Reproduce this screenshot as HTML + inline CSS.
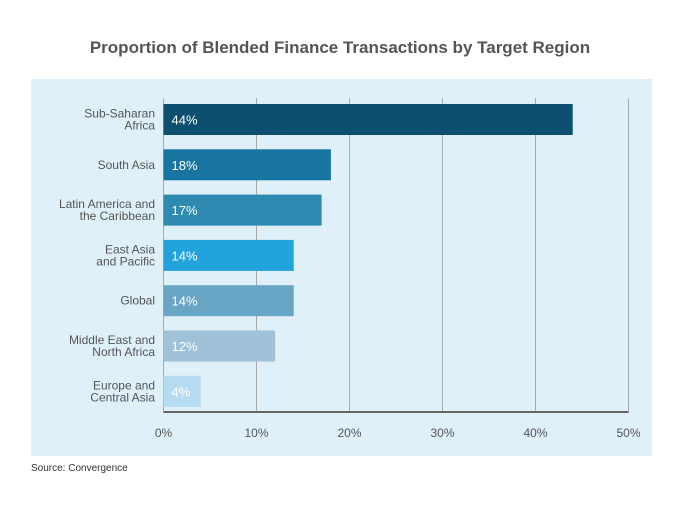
<!DOCTYPE html>
<html><head><meta charset="utf-8"><style>
body{margin:0;background:#fff;font-family:"Liberation Sans",sans-serif}
</style></head><body>
<svg width="680" height="500" xmlns="http://www.w3.org/2000/svg">
<text x="340" y="53" text-anchor="middle" font-size="17" font-weight="bold" fill="#555">Proportion of Blended Finance Transactions by Target Region</text>
<rect x="31" y="79" width="621" height="377" fill="#dff0f9"/>
<g id="grid"></g><g id="bars"></g><g id="labels"></g>
<text x="31" y="471" font-size="10" fill="#333">Source: Convergence</text>
<script>
const categories=[["Sub-Saharan","Africa"],["South Asia"],["Latin America and","the Caribbean"],["East Asia","and Pacific"],["Global"],["Middle East and","North Africa"],["Europe and","Central Asia"]];
const values=[44,18,17,14,14,12,4];
const valueLabels=["44%","18%","17%","14%","14%","12%","4%"];
const ticks=[0,10,20,30,40,50];
const colors=["#0d4f6e","#1874a0","#2e8ab0","#22a3dc","#69a5c4","#a0c2d8","#b5dcf0"];
const NS="http://www.w3.org/2000/svg";
const x=v=>163.5+v*9.3;
const yc=i=>119.5+i*45.3;
function mk(t,a,p){const e=document.createElementNS(NS,t);for(const k in a)e.setAttribute(k,a[k]);p.appendChild(e);return e;}
const g=document.getElementById('grid'),b=document.getElementById('bars'),l=document.getElementById('labels');
ticks.forEach(t=>{
const ln=mk('line',{x1:x(t),x2:x(t),y1:98,y2:412,stroke:'#aaa','stroke-width':1},g);


const tx=mk('text',{x:x(t),y:437,'text-anchor':'middle','font-size':12,fill:'#555'},g);
tx.textContent=t+'%';


});
values.forEach((v,i)=>{
const r=mk('rect',{x:x(0),y:yc(i)-15.5,width:x(v)-x(0),height:31,fill:colors[i]},b);


const vt=mk('text',{x:x(0)+8,y:yc(i)+5,'font-size':13,fill:'#fff'},b);
vt.textContent=valueLabels[i];


const lines=categories[i];
const ct=mk('text',{x:155,'text-anchor':'end','font-size':12,fill:'#555'},l);


lines.forEach((s,j)=>{const ts=mk('tspan',{x:155,y:yc(i)+4+(j-(lines.length-1)/2)*12},ct);ts.textContent=s;});
});
const ax=mk('line',{x1:x(0),x2:x(50),y1:412,y2:412,stroke:'#666','stroke-width':2},g);


</script>
</svg>
</body></html>
